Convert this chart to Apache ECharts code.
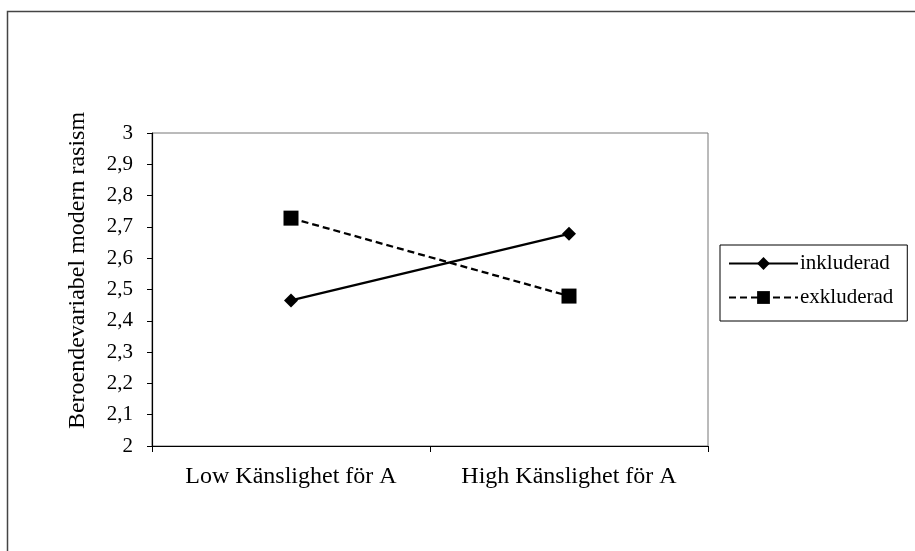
<!DOCTYPE html>
<html>
<head>
<meta charset="utf-8">
<script src="https://cdn.jsdelivr.net/npm/echarts@6/dist/echarts.min.js"></script>
<style>html,body{margin:0;padding:0;background:#fff;}#c{width:915px;height:551px;}</style>
</head>
<body>
<div id="c"></div>
<script>
const categories = ['Low Känslighet för A', 'High Känslighet för A'];
const inkluderad = [2.465, 2.678];
const exkluderad = [2.728, 2.479];
const yTicks = { min: 2, max: 3, interval: 0.1 };
const yName = 'Beroendevariabel modern rasism';

const font = 'Liberation Serif, Times New Roman, serif';
const chart = echarts.init(document.getElementById('c'), null, { renderer: 'canvas' });
chart.setOption({
  backgroundColor: '#fff',
  animation: false,
  graphic: [{
    type: 'rect', shape: { x: 7.5, y: 11.5, width: 930, height: 560 },
    style: { fill: 'none', stroke: '#444', lineWidth: 1.5 }, z: -1
  }, {
    type: 'rect', shape: { x: 152, y: 133, width: 556, height: 313 },
    style: { fill: 'none', stroke: '#777', lineWidth: 1 }, z: 0
  }],
  grid: { left: 152, top: 133, width: 556, height: 313, show: false },
  legend: {
    orient: 'vertical', left: 720, top: 245,
    padding: [8, 14, 13, 8], itemGap: 13,
    itemWidth: 69, itemHeight: 16,
    borderColor: '#000', borderWidth: 1,
    textStyle: { fontFamily: font, fontSize: 21, color: '#000', padding: [0, 0, 0, -3] },
    data: ['inkluderad', 'exkluderad']
  },
  xAxis: {
    type: 'category', data: categories, boundaryGap: true,
    axisLine: { lineStyle: { color: '#000', width: 1.2 } },
    axisTick: { show: true, interval: 0, length: 6, lineStyle: { color: '#000' } },
    axisLabel: { interval: 0, hideOverlap: false, fontFamily: font, fontSize: 24, color: '#000', margin: 19 },
    splitLine: { show: false }
  },
  yAxis: {
    type: 'value', min: yTicks.min, max: yTicks.max, interval: yTicks.interval,
    name: yName, nameLocation: 'middle', nameGap: 62, nameRotate: 90,
    nameTextStyle: { fontFamily: font, fontSize: 24, color: '#000', padding: [0, 0, 0, 38] },
    axisLine: { show: true, lineStyle: { color: '#000', width: 1.2 } },
    axisTick: { show: true, length: 5, lineStyle: { color: '#000' } },
    axisLabel: { fontFamily: font, fontSize: 21, color: '#000', margin: 19,
      formatter: v => (Math.round(v * 10) / 10).toString().replace('.', ',') },
    splitLine: { show: false }
  },
  series: [{
    name: 'inkluderad', type: 'line', data: inkluderad,
    symbol: 'diamond', symbolSize: 14,
    lineStyle: { color: '#000', width: 2.3, type: 'solid' },
    itemStyle: { color: '#000' }
  }, {
    name: 'exkluderad', type: 'line', data: exkluderad,
    symbol: 'rect', symbolSize: 15,
    lineStyle: { color: '#000', width: 2.3, type: [7, 4] },
    itemStyle: { color: '#000' }
  }]
});
</script>
</body>
</html>
